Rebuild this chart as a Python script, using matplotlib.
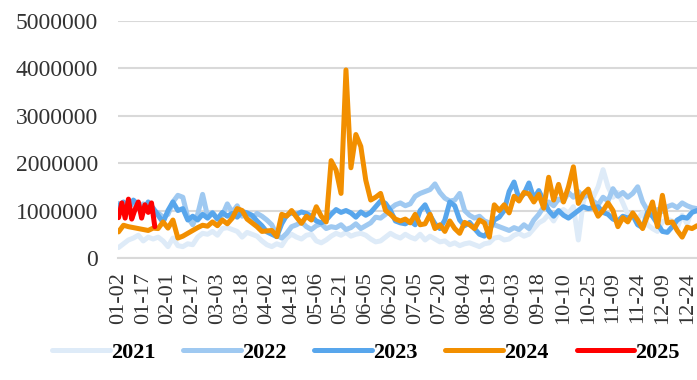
import matplotlib.pyplot as plt
import numpy as np
import pandas as pd

plt.rcParams['font.family'] = ['Liberation Serif', 'DejaVu Serif']

# Category axis: calendar days, holidays left out
holidays = ['2024-02-10', '2024-04-04', '2024-05-01', '2024-05-02', '2024-05-03',
            '2024-10-01', '2024-10-02', '2024-10-03', '2024-10-04', '2024-10-05',
            '2024-10-06', '2024-10-07']
days = pd.date_range('2024-01-02', '2024-12-31')
days = days[~days.isin(pd.to_datetime(holidays))]
categories = [d.strftime('%m-%d') for d in days]

# Volumes in units of 10,000, one value every 3 days (2025: every 2 days)
s2021 = [22, 30, 38, 42, 48, 36, 44, 40, 44, 36,
         24, 42, 26, 24, 30, 28, 44, 52, 50, 56,
         48, 62, 64, 60, 56, 44, 54, 50, 46, 36,
         28, 24, 30, 26, 42, 50, 44, 40, 48, 50,
         36, 32, 38, 46, 52, 48, 54, 46, 50, 52,
         48, 40, 34, 36, 44, 52, 46, 42, 50, 44,
         40, 50, 38, 46, 40, 34, 36, 28, 32, 26,
         30, 32, 28, 24, 30, 32, 42, 44, 38, 40,
         48, 52, 46, 50, 62, 74, 80, 92, 78, 96,
         102, 94, 108, 38, 118, 145, 128, 150, 186, 150,
         128, 138, 116, 92, 88, 82, 96, 70, 62, 56,
         76, 82, 78, 64, 90, 72, 102, 98]
s2022 = [115, 110, 118, 112, 105, 114, 108, 100, 95, 86,
         92, 118, 132, 128, 86, 70, 92, 134, 88, 96,
         82, 90, 114, 96, 110, 88, 92, 82, 94, 88,
         80, 70, 48, 42, 52, 66, 70, 76, 66, 60,
         68, 72, 62, 66, 64, 70, 60, 64, 72, 62,
         68, 74, 86, 84, 92, 104, 112, 116, 110, 114,
         130, 136, 140, 144, 156, 138, 126, 120, 122, 136,
         100, 90, 84, 88, 78, 74, 70, 66, 62, 58,
         64, 60, 70, 62, 80, 92, 108, 118, 110, 124,
         120, 138, 128, 140, 128, 134, 120, 112, 128, 120,
         146, 130, 138, 128, 136, 150, 118, 100, 96, 102,
         98, 108, 112, 106, 116, 110, 106, 104]
s2023 = [110, 118, 105, 122, 112, 100, 118, 105, 90, 75,
         100, 118, 100, 104, 80, 88, 80, 92, 84, 95,
         82, 96, 88, 94, 86, 98, 95, 90, 78, 68,
         55, 50, 45, 72, 90, 95, 92, 97, 94, 88,
         78, 74, 80, 92, 102, 96, 100, 95, 86, 97,
         90, 96, 108, 120, 115, 100, 78, 74, 72, 78,
         70, 100, 112, 90, 72, 62, 80, 118, 110, 80,
         68, 75, 62, 50, 46, 58, 80, 86, 100, 140,
         160, 125, 135, 158, 125, 142, 120, 100, 88, 100,
         90, 84, 92, 100, 108, 104, 106, 108, 96, 92,
         82, 78, 88, 84, 90, 70, 64, 96, 88, 72,
         56, 54, 66, 80, 86, 84, 96, 100]
s2024 = [55, 69, 66, 64, 62, 60, 58, 63, 62, 76,
         63, 80, 42, 46, 52, 58, 64, 69, 67, 76,
         68, 80, 72, 84, 104, 100, 82, 74, 66, 56,
         57, 58, 45, 92, 88, 100, 86, 73, 88, 80,
         108, 88, 76, 205, 185, 136, 396, 190, 260, 235,
         164, 122, 128, 136, 100, 92, 82, 78, 82, 74,
         92, 70, 72, 92, 62, 70, 56, 78, 62, 52,
         75, 70, 62, 80, 74, 44, 112, 100, 112, 95,
         130, 120, 138, 135, 118, 134, 105, 170, 122, 155,
         118, 150, 192, 115, 135, 145, 110, 88, 100, 116,
         100, 66, 85, 76, 95, 80, 62, 90, 118, 66,
         132, 74, 76, 58, 44, 65, 62, 68]
s2025 = [85, 116, 84, 124, 82, 102, 118, 84, 112, 96, 116, 66]

years = ['2021', '2022', '2023', '2024', '2025']
colors = ['#DEEBF8', '#9FC9F1', '#58A6EC', '#F28F00', '#FF0000']
series = [s2021, s2022, s2023, s2024, s2025]
steps = [3, 3, 3, 3, 2]

fig = plt.figure(figsize=(6.97, 3.8), dpi=100)
ax = fig.add_axes([0.1689, 0.321, 0.8311, 0.625])

for name, vals, col, step in zip(years, series, colors, steps):
    x = np.arange(len(vals)) * step
    ax.plot(x, np.array(vals) * 1e4, color=col, lw=3.6, label=name,
            solid_joinstyle='round', solid_capstyle='round')

ax.set_xlim(-0.5, 351)
ax.set_ylim(0, 5000000)
ax.set_yticks(np.arange(0, 5000001, 1000000))
ax.set_yticklabels([f'{v:d}' for v in range(0, 5000001, 1000000)], fontsize=17)
ticks = list(range(0, len(categories), 15))
ax.set_xticks(ticks)
ax.set_xticklabels([categories[i] for i in ticks], rotation=90, fontsize=16)
ax.tick_params(axis='y', length=0, pad=14, colors='#333333')
ax.tick_params(axis='x', length=0, pad=10, colors='#333333')

ax.yaxis.grid(True, color='#D9D9D9', lw=1.5)
ax.set_axisbelow(True)
for s in ['top', 'right', 'left']:
    ax.spines[s].set_visible(False)
ax.spines['bottom'].set_color('#D9D9D9')
ax.spines['bottom'].set_linewidth(1.5)

fig.legend(loc='center', bbox_to_anchor=(0.525, 0.072), ncol=5, frameon=False,
           prop={'weight': 'bold', 'size': 16}, handlelength=2.6,
           handletextpad=0.05, columnspacing=1.25)

fig.savefig('out.png', dpi=100)
